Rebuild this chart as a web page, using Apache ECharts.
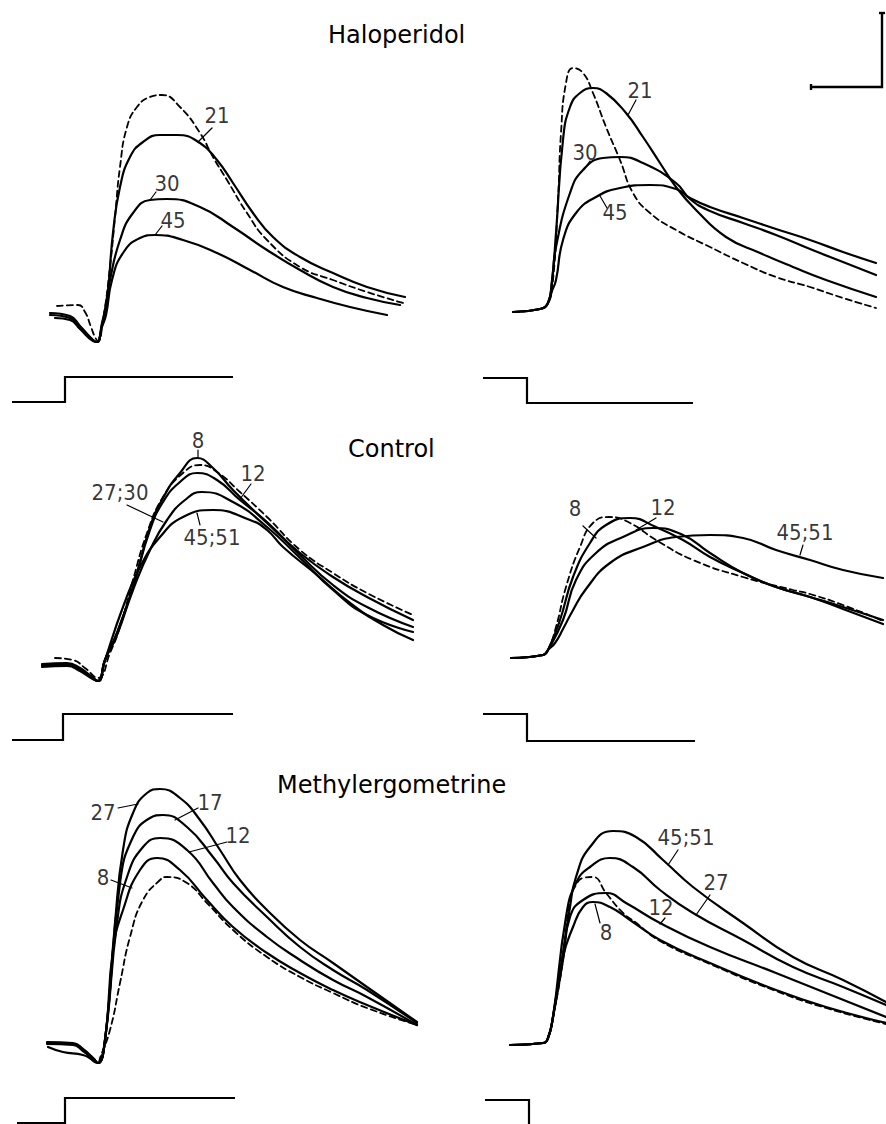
<!DOCTYPE html>
<html><head><meta charset="utf-8">
<script src="https://cdn.jsdelivr.net/npm/echarts@6/dist/echarts.min.js"></script>
<style>html,body{margin:0;padding:0;background:#fff}#c{width:886px;height:1124px}</style>
</head><body><div id="c"></div>
<script>
// Time (t, ms-like units from stimulus step) vs amplitude (v, from pre-stimulus baseline)
// ---- Haloperidol, ON ----
const haloOnCtrl = [[-8,7],[13,8],[20,1],[26,-14],[30,-24],[33,-28],[38,-7],[45,46],[50,96],[55,146],[62,186],[72,206],[85,216],[97,218],[115,206],[135,180],[148,156],[162,133],[182,100],[202,73],[235,46],[268,33],[302,21],[338,10]];
const haloOn21 = [[-15,0],[5,-3],[15,-13],[28,-27],[32,-29],[37,-10],[42,13],[48,80],[55,126],[65,156],[78,171],[95,178],[112,178],[135,170],[152,153],[168,130],[188,100],[208,76],[235,56],[268,40],[302,26],[340,16]];
const haloOn30 = [[-15,-2],[5,-5],[15,-15],[28,-27],[32,-29],[37,-12],[40,3],[45,33],[55,73],[68,100],[85,113],[102,114],[135,106],[168,86],[202,63],[235,43],[268,26],[302,15],[335,8]];
const haloOn45 = [[-10,-5],[5,-7],[15,-16],[28,-28],[32,-29],[37,-14],[41,-2],[47,33],[58,60],[75,75],[90,78],[118,73],[152,60],[185,43],[218,26],[252,15],[285,6],[322,-2]];
const haloOnLabels = [['21',152,198],['30',102,130],['45',108,93]];
const haloOnLeaders = [[[147,185],[133,171]],[[91,121],[85,113]],[[97,87],[90,78]]];
const haloOnStim = [[-53,-89],[0,-89],[0,-64],[168,-64]];

// ---- Haloperidol, OFF ----
const haloOffCtrl = [[-14,-1],[13,2],[21,8],[26,31],[31,111],[34,178],[39,228],[46,243],[56,238],[66,218],[79,184],[93,151],[106,118],[123,98],[149,81],[183,64],[216,48],[249,34],[283,24],[316,13],[349,3]];
const haloOff21 = [[-14,-1],[13,2],[21,8],[25,30],[29,78],[36,171],[43,204],[53,218],[66,223],[79,218],[99,198],[116,174],[133,148],[149,124],[169,101],[199,74],[233,58],[266,44],[299,31],[349,14]];
const haloOff30 = [[-14,-1],[13,2],[21,8],[25,30],[29,64],[43,118],[56,141],[76,153],[93,154],[116,148],[149,128],[163,112],[183,100],[216,88],[249,76],[283,62],[316,49],[349,36]];
const haloOff45 = [[-14,-1],[13,2],[21,8],[25,20],[29,31],[36,71],[49,98],[69,114],[93,123],[123,126],[149,122],[163,113],[183,104],[216,93],[249,82],[283,71],[316,59],[349,48]];
const haloOffLabels = [['21',113,221],['30',58,159],['45',88,99]];
const haloOffLeaders = [[[109,211],[101,196]],[[63,150],[57,142]],[[80,103],[73,115]]];
const haloOffStim = [[-44,-67],[0,-67],[0,-92],[166,-92]];
const scaleBar = [[284,224],[355,224],[355,298]];
const scaleCaps = [[[352,298],[358,298]],[[284,221],[284,227]]];

// ---- Control, ON ----
const ctrlOnCtrl = [[-8,7],[10,5],[22,-3],[35,-13],[47,12],[57,38],[70,85],[84,132],[100,168],[120,192],[137,200],[154,193],[177,173],[204,148],[237,115],[270,92],[304,72],[350,50]];
const ctrlOn8 = [[-21,1],[4,2],[17,-3],[28,-11],[35,-16],[42,5],[54,32],[70,78],[87,138],[100,167],[117,192],[134,207],[150,197],[170,175],[204,142],[237,112],[270,88],[304,68],[350,45]];
const ctrlOn12 = [[-21,0],[4,1],[17,-4],[28,-12],[35,-16],[42,5],[54,32],[70,78],[87,135],[100,163],[117,183],[134,192],[154,185],[177,165],[204,143],[237,110],[270,80],[304,58],[350,38]];
const ctrlOn27 = [[-21,-1],[4,0],[17,-5],[28,-12],[35,-16],[42,5],[54,30],[70,75],[87,115],[104,145],[122,165],[139,173],[170,163],[204,138],[237,107],[270,75],[304,50],[350,33]];
const ctrlOn45 = [[-21,-2],[4,-1],[17,-6],[28,-13],[35,-16],[42,5],[60,58],[77,98],[97,128],[120,148],[150,155],[187,145],[204,135],[220,118],[254,90],[287,62],[320,40],[350,25]];
const ctrlOnLabels = [['8',135,225],['12',190,192],['27;30',57,173],['45;51',149,128]];
const ctrlOnLeaders = [[[135,215],[135,207]],[[188,181],[177,166]],[[64,160],[100,143]],[[137,140],[134,152]]];
const ctrlOnStim = [[-51,-75],[0,-75],[0,-49],[170,-49]];

// ---- Control, OFF ----
const ctrlOffCtrl = [[-16,-1],[16,2],[21,7],[29,30],[39,70],[53,110],[66,134],[83,140],[103,134],[129,117],[166,97],[216,80],[266,67],[283,63],[316,52],[356,36]];
const ctrlOff8 = [[-16,-1],[16,2],[21,7],[33,37],[46,80],[63,114],[79,132],[103,139],[129,130],[156,117],[183,100],[216,84],[249,70],[283,60],[316,50],[356,37]];
const ctrlOff12 = [[-16,-1],[16,2],[21,7],[36,37],[49,77],[69,104],[96,120],[126,129],[156,122],[183,104],[216,84],[249,70],[283,60],[316,48],[356,33]];
const ctrlOff45 = [[-16,-1],[16,2],[21,7],[28,14],[36,28],[45,45],[59,68],[83,94],[116,110],[149,120],[183,122],[216,119],[249,107],[283,97],[316,87],[356,79]];
const ctrlOffLabels = [['8',48,149],['12',136,150],['45;51',278,125]];
const ctrlOffLeaders = [[[56,131],[69,119]],[[129,139],[109,127]],[[276,112],[273,102]]];
const ctrlOffStim = [[-44,-57],[0,-57],[0,-84],[168,-84]];

// ---- Methylergometrine, ON ----
const methOnCtrl = [[-18,0],[8,-1],[18,-7],[33,-20],[35,-15],[45,13],[55,60],[65,106],[78,143],[95,163],[102,166],[122,160],[142,140],[168,113],[202,86],[235,66],[268,50],[302,35],[352,18]];
const methOn8 = [[-18,0],[8,-1],[18,-7],[28,-15],[33,-20],[40,3],[48,93],[58,133],[75,173],[92,185],[115,173],[142,143],[168,116],[202,90],[235,70],[268,53],[302,38],[352,18]];
const methOn12 = [[-17,-4],[-2,-9],[18,-12],[28,-17],[33,-20],[40,3],[52,120],[62,166],[78,196],[95,205],[122,193],[148,160],[168,136],[202,106],[235,83],[268,63],[302,46],[352,18]];
const methOn17 = [[-18,-1],[8,-2],[18,-8],[28,-16],[33,-20],[40,3],[55,160],[68,206],[85,225],[98,228],[122,216],[148,186],[168,160],[202,126],[235,96],[268,73],[302,53],[352,20]];
const methOn27 = [[-18,1],[8,0],[18,-6],[28,-15],[33,-20],[40,3],[50,120],[58,193],[68,230],[82,250],[95,254],[115,245],[135,223],[155,193],[175,163],[202,133],[235,103],[268,80],[302,56],[352,21]];
const methOnLabels = [['27',38,231],['17',145,241],['12',173,208],['8',38,166]];
const methOnLeaders = [[[53,235],[73,239]],[[133,235],[110,223]],[[162,201],[124,191]],[[46,163],[67,155]]];
const methOnStim = [[-48,-80],[0,-80],[0,-55],[170,-55]];

// ---- Methylergometrine, OFF ----
const methOffCtrl = [[-19,-1],[14,1],[19,6],[24,27],[34,84],[41,144],[47,159],[54,166],[64,167],[77,151],[94,131],[106,122],[131,103],[181,80],[247,53],[297,36],[357,20]];
const methOff8 = [[-19,-1],[14,1],[19,6],[24,27],[34,87],[44,117],[54,137],[64,142],[81,137],[101,124],[131,104],[181,81],[247,54],[297,37],[357,21]];
const methOff12 = [[-19,-1],[14,1],[19,6],[24,27],[34,84],[41,127],[54,144],[77,151],[97,141],[131,121],[181,97],[247,71],[297,51],[357,27]];
const methOff27 = [[-19,-1],[14,1],[19,6],[24,27],[37,127],[47,161],[61,177],[81,186],[104,177],[131,154],[164,131],[214,104],[264,77],[314,57],[357,39]];
const methOff45 = [[-19,-1],[14,1],[19,6],[24,27],[41,137],[47,167],[61,197],[84,213],[107,207],[134,184],[164,157],[214,121],[264,87],[314,64],[357,42]];
const methOffLabels = [['45;51',157,207],['27',187,162],['12',132,137],['8',77,112]];
const methOffLeaders = [[[149,194],[139,179]],[[181,149],[167,129]],[[136,126],[131,120]],[[71,121],[66,140]]];
const methOffStim = [[-44,-56],[0,-56],[0,-80]];

const titles = ['Haloperidol','Control','Methylergometrine'];

// ---- layout (positions only) ----
const layout = [
  {left:0,   top:0,   width:443, height:420, x:[-65,378], y:[-107,313]},
  {left:443, top:0,   width:443, height:420, x:[-84,359], y:[-109,311]},
  {left:0,   top:420, width:443, height:330, x:[-63,380], y:[-85,245]},
  {left:443, top:420, width:443, height:330, x:[-84,359], y:[-93,237]},
  {left:0,   top:750, width:443, height:374, x:[-65,378], y:[-81,293]},
  {left:443, top:750, width:443, height:374, x:[-86,357], y:[-80,294]}
];
const titlePos = [{left:328, top:23},{left:348, top:437},{left:277, top:773}];

const panels = [
  {solid:[haloOn21,haloOn30,haloOn45], dashed:haloOnCtrl, labels:haloOnLabels, leaders:haloOnLeaders, stim:haloOnStim},
  {solid:[haloOff21,haloOff30,haloOff45], dashed:haloOffCtrl, labels:haloOffLabels, leaders:haloOffLeaders, stim:haloOffStim},
  {solid:[ctrlOn8,ctrlOn12,ctrlOn27,ctrlOn45], dashed:ctrlOnCtrl, labels:ctrlOnLabels, leaders:ctrlOnLeaders, stim:ctrlOnStim},
  {solid:[ctrlOff8,ctrlOff12,ctrlOff45], dashed:ctrlOffCtrl, labels:ctrlOffLabels, leaders:ctrlOffLeaders, stim:ctrlOffStim},
  {solid:[methOn8,methOn12,methOn17,methOn27], dashed:methOnCtrl, labels:methOnLabels, leaders:methOnLeaders, stim:methOnStim},
  {solid:[methOff8,methOff12,methOff27,methOff45], dashed:methOffCtrl, labels:methOffLabels, leaders:methOffLeaders, stim:methOffStim}
];

const INK = '#000';
const grid = [], xAxis = [], yAxis = [], series = [];
layout.forEach((L, i) => {
  grid.push({left:L.left, top:L.top, width:L.width, height:L.height, containLabel:false});
  xAxis.push({type:'value', gridIndex:i, min:L.x[0], max:L.x[1], show:false});
  yAxis.push({type:'value', gridIndex:i, min:L.y[0], max:L.y[1], show:false});
});
function line(i, data, style, smooth) {
  series.push({type:'line', xAxisIndex:i, yAxisIndex:i, data:data, symbol:'none', showSymbol:false,
    smooth: smooth ? 0.5 : false, clip:false, silent:true,
    lineStyle:Object.assign({color:INK, cap:'round', join:'round'}, style), z: 2});
}
panels.forEach((P, i) => {
  line(i, P.dashed, {width:1.8, type:[6,4]}, true);
  P.solid.forEach(d => line(i, d, {width:2.2}, true));
  P.leaders.forEach(d => line(i, d, {width:1.2}, false));
  line(i, P.stim, {width:2.2, cap:'butt', join:'miter'}, false);
  series.push({type:'scatter', xAxisIndex:i, yAxisIndex:i, symbolSize:1, silent:true,
    itemStyle:{color:'rgba(0,0,0,0)'},
    data:P.labels.map(l => ({name:l[0], value:[l[1], l[2]]})),
    label:{show:true, position:'inside', formatter:'{b}', color:INK, fontSize:22,
      fontFamily:'"DejaVu Sans Condensed","Liberation Sans Narrow","DejaVu Sans",sans-serif'}});
});
line(1, scaleBar, {width:2.4, cap:'butt', join:'miter'}, false);
scaleCaps.forEach(d => line(1, d, {width:2.4, cap:'butt'}, false));

const chart = echarts.init(document.getElementById('c'), null, {renderer:'svg'});
chart.setOption({
  animation:false,
  backgroundColor:'#fff',
  title: titles.map((t, k) => ({text:t, left:titlePos[k].left, top:titlePos[k].top, padding:0,
    textStyle:{fontFamily:'"DejaVu Sans",sans-serif', fontSize:24, fontWeight:'normal', color:INK}})),
  grid, xAxis, yAxis, series
});
</script></body></html>
